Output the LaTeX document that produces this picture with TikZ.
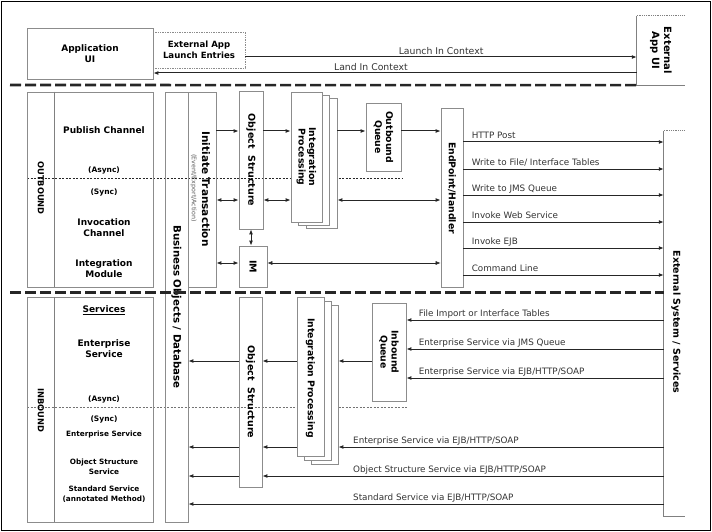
\documentclass[tikz,border=0pt]{standalone}
\usepackage{fontspec}
\setmainfont{DejaVu Sans}
\usetikzlibrary{arrows.meta,calc}
\begin{document}
\begin{tikzpicture}[x=1pt,y=-1pt,
  box/.style={draw=black!45, line width=0.7pt, inner sep=0pt},
  fbox/.style={box, fill=white},
  dbox/.style={draw=black!45, line width=0.7pt, densely dotted, inner sep=0pt},
  arr/.style={line width=1pt, black!85, -{Latex[length=5pt,width=4pt]}},
  darr/.style={line width=1pt, black!85, {Latex[length=5pt,width=4pt]}-{Latex[length=5pt,width=4pt]}},
  lab/.style={font=\fontsize{8.8}{9.5}\selectfont, text=black!80, inner sep=0pt, anchor=base west},
  bl/.style={font=\bfseries\fontsize{9}{11}\selectfont, align=center, inner sep=0pt},
  sl/.style={font=\bfseries\fontsize{7.5}{9.5}\selectfont, align=center, inner sep=0pt},
  vl/.style={font=\bfseries\fontsize{9.5}{11.5}\selectfont, align=center, inner sep=0pt, rotate=-90},
  sep/.style={line width=2.6pt, black!85, dash pattern=on 11pt off 4pt},
  dotl/.style={line width=0.8pt, black!85, dash pattern=on 2pt off 1.5pt},
  edge/.style={draw=black!50, line width=0.8pt},
]
\useasboundingbox (0,0) rectangle (712,532);
\draw[line width=1.2pt] (1.5,1.5) rectangle (710.5,530.5);

% ---------- async / sync dotted lines
\draw[dotl] (27,178) -- (402,178);
\draw[dotl, black!55] (27,407) -- (407,407);

% ---------- top row
\node[box, bl, minimum width=126pt, minimum height=51pt] (appui) at (90,53.5) {Application\\UI};
\node[dbox, bl, font=\bfseries\fontsize{8.6}{10.5}\selectfont, minimum width=92pt, minimum height=36pt] (extlaunch) at (199,50) {External App\\Launch Entries};
\node[minimum width=48pt, minimum height=69pt, inner sep=0pt] (extappui) at (661,50.5) {};
\draw[edge] (extappui.north west) -- (extappui.south west) -- (extappui.south east);
\draw[edge, densely dotted] (extappui.north west) -- (extappui.north east);
\node[vl, font=\bfseries\fontsize{10}{12}\selectfont] at (extappui.center) {External\\App UI};

\coordinate (yL1) at (0,57);
\coordinate (yL2) at (0,73);
\draw[arr] (extlaunch.east|-yL1) -- node[midway, above=1.5pt, font=\fontsize{9.3}{10}\selectfont, text=black!80, inner sep=0pt] {Launch In Context} (extappui.west|-yL1);
\draw[arr] (extappui.west|-yL2) -- node[pos=0.55, above=1.5pt, font=\fontsize{9.3}{10}\selectfont, text=black!80, inner sep=0pt] {Land In Context} (appui.east|-yL2);

% ---------- OUTBOUND panel
\node[box, minimum width=126pt, minimum height=195pt] (obleft) at (90,189.5) {};
\draw[edge] ($(obleft.north west)+(28,0)$) -- ($(obleft.south west)+(28,0)$);
\node[bl, rotate=-90, font=\bfseries\fontsize{8.3}{10}\selectfont] at (41,188) {OUTBOUND};
\node[bl] at (104,130) {Publish Channel};
\node[sl] at (104,170) {(Async)};
\node[sl] at (104,192) {(Sync)};
\node[bl] at (104,228) {Invocation\\Channel};
\node[bl] at (104,269) {Integration\\Module};

% ---------- INBOUND panel
\node[box, minimum width=126pt, minimum height=225pt] (inleft) at (90,409.5) {};
\draw[edge] ($(inleft.north west)+(28,0)$) -- ($(inleft.south west)+(28,0)$);
\node[bl, rotate=-90, font=\bfseries\fontsize{8.3}{10}\selectfont] at (41,410) {INBOUND};
\node[bl] at (104,310) {\underline{Services}};
\node[bl] at (104,349) {Enterprise\\Service};
\node[sl] at (104,399) {(Async)};
\node[sl] at (104,419) {(Sync)};
\node[sl, font=\bfseries\fontsize{7.3}{9}\selectfont] at (104,434) {Enterprise Service};
\node[sl, font=\bfseries\fontsize{7.3}{9.5}\selectfont] at (104,467) {Object Structure\\Service};
\node[sl, font=\bfseries\fontsize{7.3}{9.5}\selectfont] at (104,494) {Standard Service\\(annotated Method)};

% ---------- Business objects / initiate transaction
\node[box, minimum width=23pt, minimum height=430pt] (bizdb) at (176.5,307) {};
\node[vl, font=\bfseries\fontsize{10.2}{12}\selectfont] at (176.5,307) {Business Objects / Database};
\node[box, minimum width=28pt, minimum height=195pt] (initx) at (202,189.5) {};
\node[vl, font=\bfseries\fontsize{10.5}{12}\selectfont] at (206,189) {Initiate Transaction};
\node[rotate=-90, inner sep=0pt, text=black!65, font=\fontsize{6.3}{7}\selectfont] at (193.5,188) {(Event/Export/Action)};

% ---------- outbound boxes
\node[box, minimum width=24pt, minimum height=138pt] (objout) at (251,160) {};
\node[vl] at (objout.center) {Object\ \ Structure};
\node[box, minimum width=28pt, minimum height=41pt] (im) at (253,266.5) {};
\node[vl] at (im.center) {IM};
\node[fbox, minimum width=31pt, minimum height=130pt] (ipoutc) at (321.5,163) {};
\node[fbox, minimum width=31pt, minimum height=130pt] (ipoutb) at (313.5,160) {};
\node[fbox, minimum width=31pt, minimum height=130pt] (ipout) at (306.5,157) {};
\node[vl, font=\bfseries\fontsize{9.3}{10.5}\selectfont] at (ipout.center) {Integration\\Processing};
\node[box, minimum width=35pt, minimum height=68pt] (obq) at (383.5,137) {};
\node[vl, font=\bfseries\fontsize{9.3}{11}\selectfont] at (obq.center) {Outbound\\Queue};
\node[box, minimum width=22pt, minimum height=179pt] (endp) at (452,197.5) {};
\node[vl, font=\bfseries\fontsize{9.3}{11}\selectfont] at (452,188) {EndPoint/Handler};

% ---------- external system
\node[minimum width=21pt, minimum height=385pt, inner sep=0pt] (extsys) at (674.5,323.5) {};
\draw[edge] (extsys.north west) -- (extsys.south west) -- (extsys.south east);
\draw[edge, densely dotted] (extsys.north west) -- (extsys.north east);
\node[vl, font=\bfseries\fontsize{9.5}{11}\selectfont] at (676,322) {External System / Services};

% ---------- inbound boxes
\node[box, minimum width=23pt, minimum height=190pt] (objin) at (250.5,392) {};
\node[vl] at (objin.center) {Object\ \ Structure};
\node[fbox, minimum width=27pt, minimum height=159pt] (ipinc) at (324.5,384.5) {};
\node[fbox, minimum width=27pt, minimum height=159pt] (ipinb) at (317.5,380.5) {};
\node[fbox, minimum width=27pt, minimum height=159pt] (ipin) at (310.5,376.5) {};
\node[vl, font=\bfseries\fontsize{9.3}{11}\selectfont] at (310.5,378) {Integration Processing};
\node[box, minimum width=34pt, minimum height=98pt] (inq) at (389,352) {};
\node[vl, font=\bfseries\fontsize{9.3}{11}\selectfont] at (inq.center) {Inbound\\Queue};

% ---------- outbound connectors
\coordinate (o1) at (0,131);
\coordinate (o2) at (0,200);
\coordinate (o3) at (0,263);
\draw[arr] (initx.east|-o1) -- (objout.west|-o1);
\draw[arr] (objout.east|-o1) -- (ipout.west|-o1);
\draw[arr] (ipoutc.east|-o1) -- (obq.west|-o1);
\draw[arr] (obq.east|-o1) -- (endp.west|-o1);
\draw[darr] (initx.east|-o2) -- (objout.west|-o2);
\draw[darr] (objout.east|-o2) -- (ipout.west|-o2);
\draw[darr] (ipoutc.east|-o2) -- (endp.west|-o2);
\draw[darr] (initx.east|-o3) -- (im.west|-o3);
\draw[darr, line width=0.6pt] (im.east|-o3) -- (endp.west|-o3);
\draw[darr] (objout.south) -- (im.north-|objout.south);

\foreach \y/\t in {142/{HTTP Post}, 169/{Write to File/ Interface Tables}, 195/{Write to JMS Queue}, 222/{Invoke Web Service}, 248/{Invoke EJB}, 275/{Command Line}}{
  \coordinate (oo) at (0,\y);
  \draw[arr] (endp.east|-oo) -- node[lab, at start, xshift=8pt, yshift=3.5pt] {\t} (extsys.west|-oo);
}

% ---------- inbound connectors
\coordinate (i0) at (0,361);
\draw[arr] (inq.west|-i0) -- (ipinc.east|-i0);
\draw[arr] (ipin.west|-i0) -- (objin.east|-i0);
\draw[arr] (objin.west|-i0) -- (bizdb.east|-i0);
\foreach \y/\t in {320/{File Import or Interface Tables}, 349/{Enterprise Service via JMS Queue}, 378/{Enterprise Service via EJB/HTTP/SOAP}}{
  \coordinate (ii) at (0,\y);
  \draw[arr] (extsys.west|-ii) -- node[lab, at end, xshift=12pt, yshift=4pt] {\t} (inq.east|-ii);
}
\coordinate (i4) at (0,447);
\coordinate (i5) at (0,476);
\coordinate (i6) at (0,504);
\draw[arr] (extsys.west|-i4) -- (ipinc.east|-i4);
\draw[arr] (ipin.west|-i4) -- (objin.east|-i4);
\draw[arr] (objin.west|-i4) -- (bizdb.east|-i4);
\draw[arr] (extsys.west|-i5) -- (objin.east|-i5);
\draw[arr] (objin.west|-i5) -- (bizdb.east|-i5);
\draw[arr] (extsys.west|-i6) -- (bizdb.east|-i6);
\node[lab] at (353,443) {Enterprise Service via EJB/HTTP/SOAP};
\node[lab] at (353,472) {Object Structure Service via EJB/HTTP/SOAP};
\node[lab] at (353,500) {Standard Service via EJB/HTTP/SOAP};

% ---------- separators
\draw[sep] (10,85) -- (extappui.south west);
\coordinate (s2) at (0,292.5);
\draw[sep] (10,292.5) -- (extsys.west|-s2);
\end{tikzpicture}
\end{document}
